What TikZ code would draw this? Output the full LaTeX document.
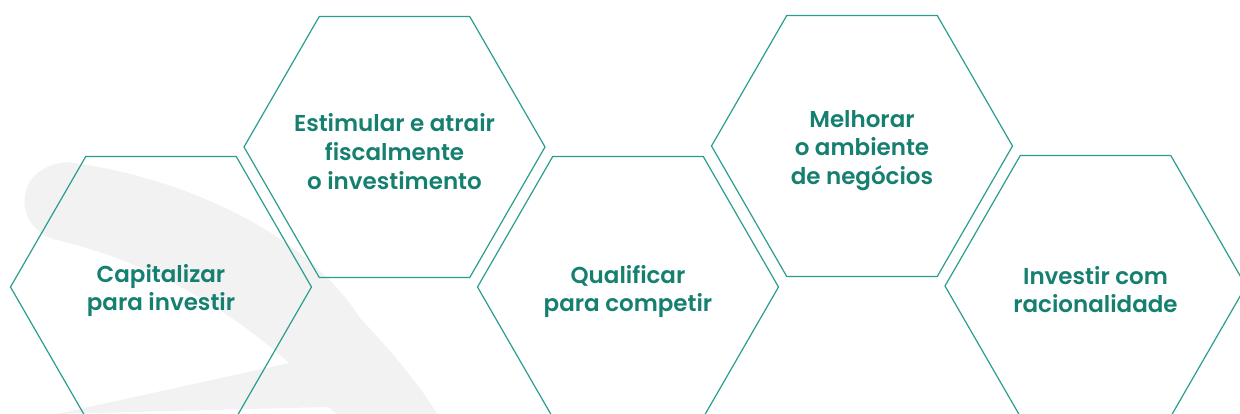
\documentclass[tikz,border=0pt]{standalone}
\usepackage{fontspec}
\newfontfamily\hexfont{Poppins SemiBold}
\definecolor{hexline}{RGB}{42,157,143}
\definecolor{hextext}{RGB}{22,128,112}
\definecolor{swoosh}{RGB}{242,242,242}
\begin{document}
\begin{tikzpicture}[x=1pt,y=-1pt,
  hexedge/.style={draw=hexline,line width=1.2pt,line join=miter},
  hexlabel/.style={align=center,text=hextext,font=\hexfont\fontsize{23}{28.8}\selectfont,inner sep=0pt}]
\useasboundingbox (0,0) rectangle (1240,414);
% background swoosh
\fill[swoosh] (57,240) .. controls (16,232) and (8,168) .. (67,162)
  .. controls (170,175) and (300,225) .. (360,318)
  .. controls (390,350) and (420,385) .. (437,414)
  -- (337,414) -- (328,407) -- (57,414) -- (289,363)
  .. controls (230,310) and (150,262) .. (57,240) -- cycle;
% hexagons
\def\R{150.5}\def\Rh{75.25}\def\H{130.5}
\foreach \cx/\cy in {161/287, 394.5/147, 628/287, 862/146, 1095.5/286}{
  \draw[hexedge] (\cx-\R,\cy) -- (\cx-\Rh,\cy-\H) -- (\cx+\Rh,\cy-\H) -- (\cx+\R,\cy)
    -- (\cx+\Rh,\cy+\H) -- (\cx-\Rh,\cy+\H) -- cycle;
}
\node[hexlabel] (h1) at (161,290.5) {Capitalizar\\para investir};
\node[hexlabel] (h2) at (394.5,151.5) {Estimular e atrair\\fiscalmente\\o investimento};
\node[hexlabel] (h3) at (628,291.5) {Qualificar\\para competir};
\node[hexlabel] (h4) at (862,150.5) {Melhorar\\o ambiente\\de negócios};
\node[hexlabel] (h5) at (1095.5,289.5) {Investir com\\racionalidade};
\end{tikzpicture}
\end{document}
